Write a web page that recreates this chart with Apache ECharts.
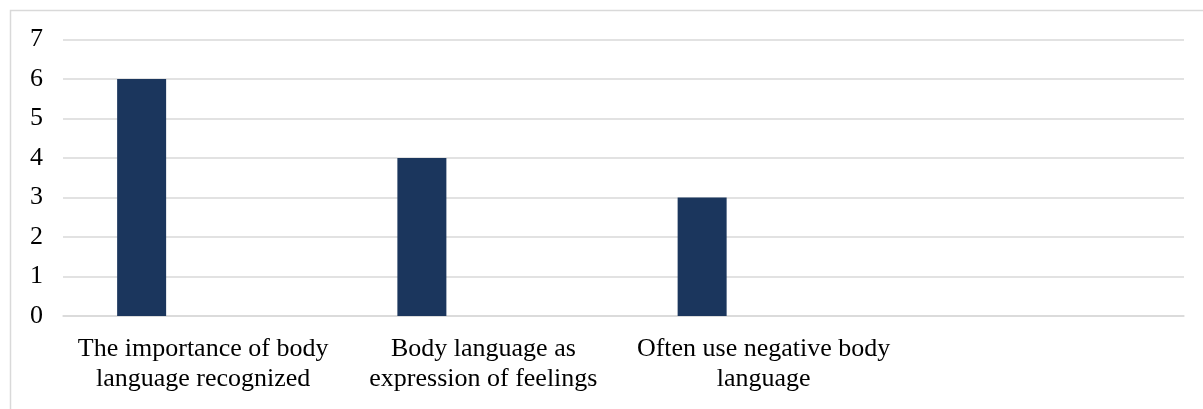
<!DOCTYPE html>
<html>
<head>
<meta charset="utf-8">
<script src="https://cdn.jsdelivr.net/npm/echarts@6/dist/echarts.min.js"></script>
<style>
html,body{margin:0;padding:0;background:#fff;}
#c{width:1203px;height:409px;}
</style>
</head>
<body>
<div id="c"></div>
<script>
const categories = [
  "The importance of body\nlanguage recognized",
  "Body language as\nexpression of feelings",
  "Often use negative body\nlanguage",
  ""
];
const series1 = [6, 4, 3, null];
const series2 = [null, null, null, null];
const series3 = [null, null, null, null];
const yTicks = [0, 1, 2, 3, 4, 5, 6, 7];

const chart = echarts.init(document.getElementById('c'), null, {renderer: 'canvas'});
const font = '"Liberation Serif", "Times New Roman", serif';
chart.setOption({
  animation: false,
  backgroundColor: '#fff',
  graphic: [{
    type: 'rect',
    shape: {x: 10.5, y: 10.5, width: 1300, height: 500},
    style: {fill: 'none', stroke: '#d9d9d9', lineWidth: 1.5},
    silent: true
  }],
  grid: {left: 63, right: 19, top: 39.5, bottom: 93, containLabel: false},
  xAxis: {
    type: 'category',
    data: categories,
    axisLine: {show: true, lineStyle: {color: '#d9d9d9', width: 1.5}},
    axisTick: {show: false},
    axisLabel: {
      interval: 0,
      color: '#000',
      fontFamily: font,
      fontSize: 26,
      lineHeight: 30,
      margin: 18
    }
  },
  yAxis: {
    type: 'value',
    min: yTicks[0],
    max: yTicks[yTicks.length - 1],
    interval: 1,
    axisLine: {show: false},
    axisTick: {show: false},
    splitLine: {lineStyle: {color: '#d9d9d9', width: 1.5}},
    axisLabel: {color: '#000', fontFamily: font, fontSize: 26, margin: 20}
  },
  series: [
    {name: 'S1', type: 'bar', data: series1, barWidth: 49, barGap: '25.5%', itemStyle: {color: '#1b365d'}},
    {name: 'S2', type: 'bar', data: series2, barWidth: 49, barGap: '25.5%', itemStyle: {color: '#1b365d'}},
    {name: 'S3', type: 'bar', data: series3, barWidth: 49, barGap: '25.5%', itemStyle: {color: '#1b365d'}}
  ]
});
</script>
</body>
</html>
